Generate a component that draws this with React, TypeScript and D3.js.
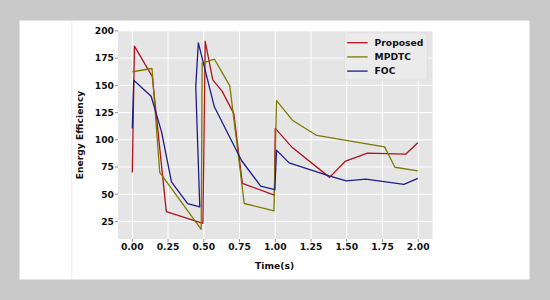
import React from "react";
import * as d3 from "d3";

const proposedT = [0, 0.015, 0.14, 0.238, 0.494, 0.51, 0.563, 0.629, 0.71, 0.77, 0.994, 1.0, 1.115, 1.38, 1.492, 1.645, 1.912, 1.997];
const proposedV = [70, 186, 158, 34, 23.3, 190.5, 155, 144.5, 124, 60, 49.2, 110.5, 93.5, 65.5, 80.5, 87.8, 86.8, 97.3];

const mpdtcT = [0, 0.138, 0.192, 0.482, 0.489, 0.575, 0.682, 0.783, 0.991, 1.009, 1.12, 1.29, 1.765, 1.837, 1.997];
const mpdtcV = [162.5, 165.5, 70, 17.8, 170.5, 174, 149.5, 41.5, 34.8, 136, 118, 104, 93.5, 74.8, 71.5];

const focT = [0, 0.01, 0.132, 0.205, 0.274, 0.387, 0.472, 0.444, 0.462, 0.574, 0.764, 0.898, 0.997, 1.009, 1.097, 1.377, 1.496, 1.634, 1.9, 1.997];
const focV = [110.5, 154.7, 140, 107, 61.4, 41.3, 38.5, 149, 189, 130.3, 81, 57.5, 54.2, 90.5, 78.8, 66.8, 62.3, 63.9, 59, 64.5];

const xTicks = [0, 0.25, 0.5, 0.75, 1.0, 1.25, 1.5, 1.75, 2.0];
const yTicks = [25, 50, 75, 100, 125, 150, 175, 200];

const seriesNames = ["Proposed", "MPDTC", "FOC"];
const seriesColors = ["#b3121c", "#7a7a00", "#1c1c8c"];

const FONT = "'DejaVu Sans', sans-serif";

export default function App() {
  const left = 118, right = 432.5, top = 30.7, bottom = 239;
  const x = d3.scaleLinear().domain([-0.1, 2.1]).range([left, right]);
  const y = d3.scaleLinear().domain([8.9, 200.2]).range([bottom, top]);

  const series = [
    { t: proposedT, v: proposedV },
    { t: mpdtcT, v: mpdtcV },
    { t: focT, v: focV },
  ];
  const line = d3
    .line<[number, number]>()
    .x((d) => x(d[0]))
    .y((d) => y(d[1]));

  return (
    <svg
      width={550}
      height={300}
      style={{ position: "absolute", left: 0, top: 0 }}
      fontFamily={FONT}
    >
      <rect x={0} y={0} width={550} height={300} fill="#c9c9c9" />
      <rect x={19.5} y={20.5} width={510} height={259} fill="#ffffff" />
      <line x1={71.8} x2={71.8} y1={21} y2={279} stroke="#ececec" strokeWidth={1} />

      <rect x={left} y={top} width={right - left} height={bottom - top} fill="#e5e5e5" />
      <clipPath id="plotclip">
        <rect x={left} y={top} width={right - left} height={bottom - top} />
      </clipPath>

      {xTicks.map((t) => (
        <line key={"gx" + t} x1={x(t)} x2={x(t)} y1={top} y2={bottom} stroke="#ffffff" strokeWidth={1} />
      ))}
      {yTicks.map((t) => (
        <line key={"gy" + t} x1={left} x2={right} y1={y(t)} y2={y(t)} stroke="#ffffff" strokeWidth={1} />
      ))}

      <g clipPath="url(#plotclip)">
        {series.map((s, i) => (
          <path
            key={i}
            d={line(s.t.map((t, j) => [t, s.v[j]] as [number, number])) || ""}
            fill="none"
            stroke={seriesColors[i]}
            strokeWidth={1.3}
            strokeLinejoin="round"
          />
        ))}
      </g>

      {xTicks.map((t) => (
        <g key={"xt" + t}>
          <line x1={x(t)} x2={x(t)} y1={bottom} y2={bottom + 3} stroke="#777" strokeWidth={0.8} />
          <text x={x(t)} y={250} textAnchor="middle" fontSize={9.2} fontWeight="bold" fill="#111">
            {t.toFixed(2)}
          </text>
        </g>
      ))}
      {yTicks.map((t) => (
        <g key={"yt" + t}>
          <line x1={left - 3} x2={left} y1={y(t)} y2={y(t)} stroke="#777" strokeWidth={0.8} />
          <text x={114} y={y(t) + 3.3} textAnchor="end" fontSize={9.2} fontWeight="bold" fill="#111">
            {t}
          </text>
        </g>
      ))}

      <text
        transform="translate(83,135) rotate(-90)"
        textAnchor="middle"
        fontSize={9.2}
        fontWeight="bold"
        fill="#111"
      >
        Energy Efficiency
      </text>
      <text x={274.6} y={269} textAnchor="middle" fontSize={9.2} fontWeight="bold" fill="#111">
        Time(s)
      </text>

      <rect x={344.4} y={33} width={82.8} height={47} fill="#ebebeb" stroke="#dcdcdc" strokeWidth={0.8} rx={1.5} />
      {seriesNames.map((n, i) => {
        const cy = 42.7 + i * 14.2;
        return (
          <g key={n}>
            <line x1={347.2} x2={367.6} y1={cy} y2={cy} stroke={seriesColors[i]} strokeWidth={1.3} />
            <text x={374.6} y={cy + 3.3} fontSize={9.2} fontWeight="bold" fill="#111">
              {n}
            </text>
          </g>
        );
      })}
    </svg>
  );
}
